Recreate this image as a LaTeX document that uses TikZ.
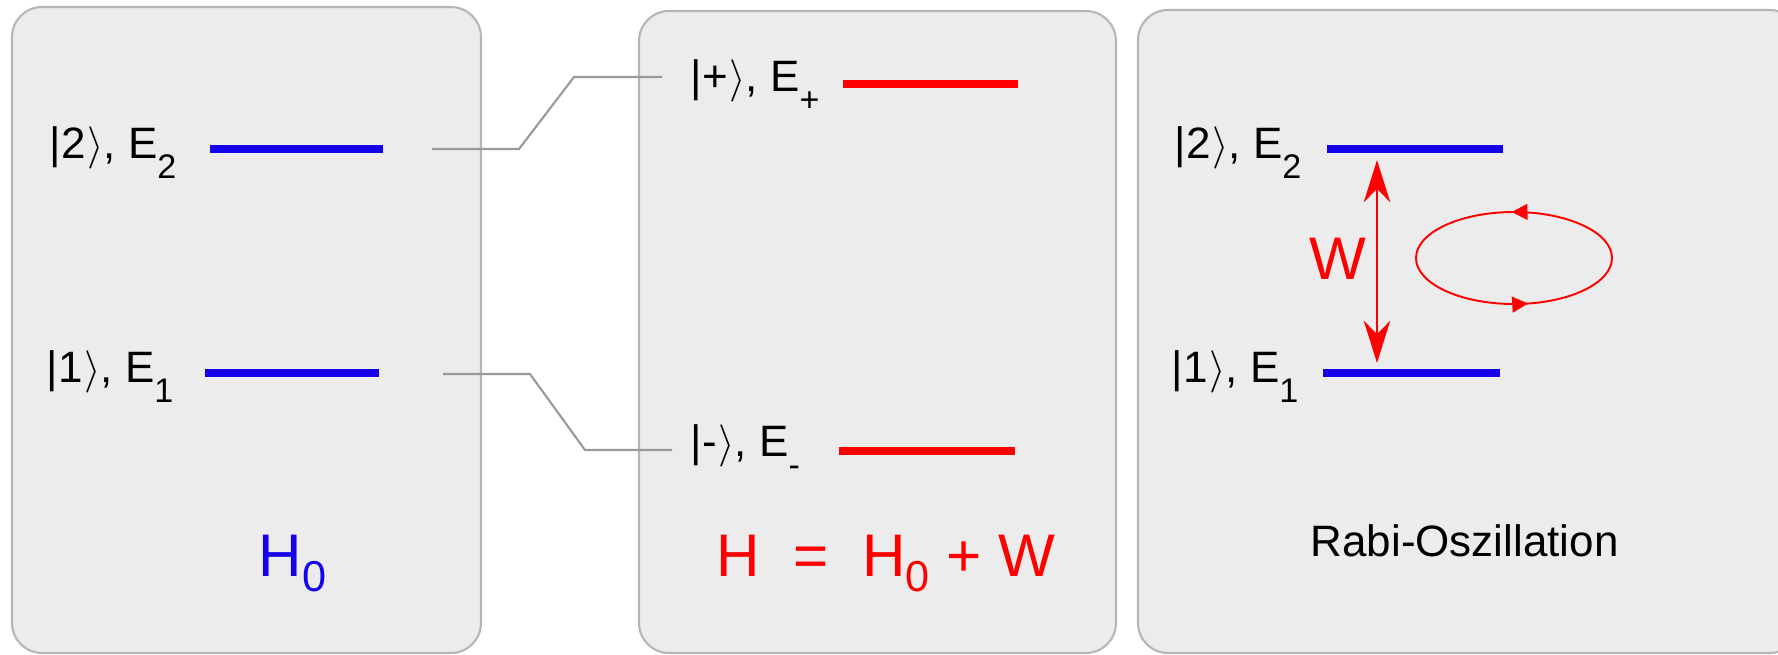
\documentclass[tikz,border=0pt]{standalone}
\usepackage{fontspec}
\setmainfont{Liberation Sans}
\usepackage{xcolor}
\usetikzlibrary{arrows.meta,decorations.markings}

\definecolor{levelblue}{RGB}{20,0,235}
\definecolor{panelgray}{RGB}{236,236,236}
\definecolor{bordergray}{RGB}{182,182,182}
\definecolor{linkgray}{RGB}{153,153,153}

\newcommand{\ket}[1]{|#1\kern0.5pt$\rangle$}
\newcommand{\lowsub}[1]{\raisebox{-5.7pt}{\fontsize{9.7}{10}\selectfont #1}}
\newcommand{\bigsub}[1]{\raisebox{-4.3pt}{\fontsize{12.3}{13}\selectfont #1}}

\begin{document}
\begin{tikzpicture}[
                x=0.01cm, y=-0.01cm,
                panel/.style={draw=bordergray, line width=0.6pt, fill=panelgray, rounded corners=3mm},
                level/.style={line width=2pt},
                statetext/.style={anchor=base west, inner sep=0pt, font=\fontsize{12.5}{14}\selectfont},
                bigtext/.style={anchor=base west, inner sep=0pt, font=\fontsize{17.1}{20}\selectfont},
                link/.style={draw=linkgray, line width=0.6pt},
                >=Stealth
            ]
            \useasboundingbox (0,0) rectangle (1778,654);
            \clip (0,0) rectangle (1778,654);

            % Panels
            \draw[panel] (12,7) rectangle (481,653);
            \draw[panel] (639,11) rectangle (1116,653);
            \draw[panel] (1138,10) rectangle (1800,653);

            % Levels
            \coordinate (h2a) at (210,149); \coordinate (h2b) at (383,149);
            \coordinate (h1a) at (205,373); \coordinate (h1b) at (379,373);
            \coordinate (hpa) at (843,84);  \coordinate (hpb) at (1018,84);
            \coordinate (hma) at (839,451); \coordinate (hmb) at (1015,451);
            \coordinate (r2a) at (1327,149); \coordinate (r2b) at (1503,149);
            \coordinate (r1a) at (1323,373); \coordinate (r1b) at (1500,373);

            \draw[level, levelblue] (h2a) -- (h2b);
            \draw[level, levelblue] (h1a) -- (h1b);
            \draw[level, red] (hpa) -- (hpb);
            \draw[level, red] (hma) -- (hmb);
            \draw[level, levelblue] (r2a) -- (r2b);
            \draw[level, levelblue] (r1a) -- (r1b);

            % Nodes
            \node[statetext] (s2) at (49,158) {\ket{2}, E\lowsub{2}};
            \node[statetext] (s1) at (46,382) {\ket{1}, E\lowsub{1}};
            \node[statetext] (sp) at (690,91) {\ket{+}, E\lowsub{+}};
            \node[statetext] (sm) at (690,456) {\ket{-}, E\lowsub{-}};
            \node[statetext] (q2) at (1174,158) {\ket{2}, E\lowsub{2}};
            \node[statetext] (q1) at (1171,382) {\ket{1}, E\lowsub{1}};

            \node[bigtext, text=levelblue] (hzero) at (258,576) {H\bigsub{0}};
            \node[bigtext, text=red] (hfull) at (716,576) {H\ \ =\ \ H\bigsub{0} + W};
            \node[bigtext, text=red] (wlab) at (1309,279) {W};
            \node[statetext] (rabi) at (1310,556) {Rabi-Oszillation};

            % Edges
            \coordinate (l2) at (432,149); \coordinate (lp) at (662,77);
            \coordinate (l1) at (443,374); \coordinate (lm) at (672,450);
            \draw[link] (l2) -- ++(87,0) -- ++(55,-72) -- (lp);
            \draw[link] (l1) -- ++(87,0) -- ++(55,76) -- (lm);

            % Coupling W and oscillation
            \coordinate (wtop) at (1377,160);
            \coordinate (wbot) at (1377,363);
            \draw[<->, red, line width=0.8pt, >={Stealth[length=12pt,width=7.5pt,inset=3.8pt]}] (wtop) -- (wbot);

            \coordinate (osc) at (1514,258);
            \draw[red, line width=0.55pt, postaction={decorate},
                decoration={markings,
                    mark=at position 0.22 with {\arrowreversed{Triangle[length=4.5pt,width=4.5pt]}},
                    mark=at position 0.745 with {\arrowreversed{Triangle[length=4.5pt,width=4.5pt]}}}]
                (osc) ellipse [x radius=98, y radius=46];

            \end{tikzpicture}
\end{document}
